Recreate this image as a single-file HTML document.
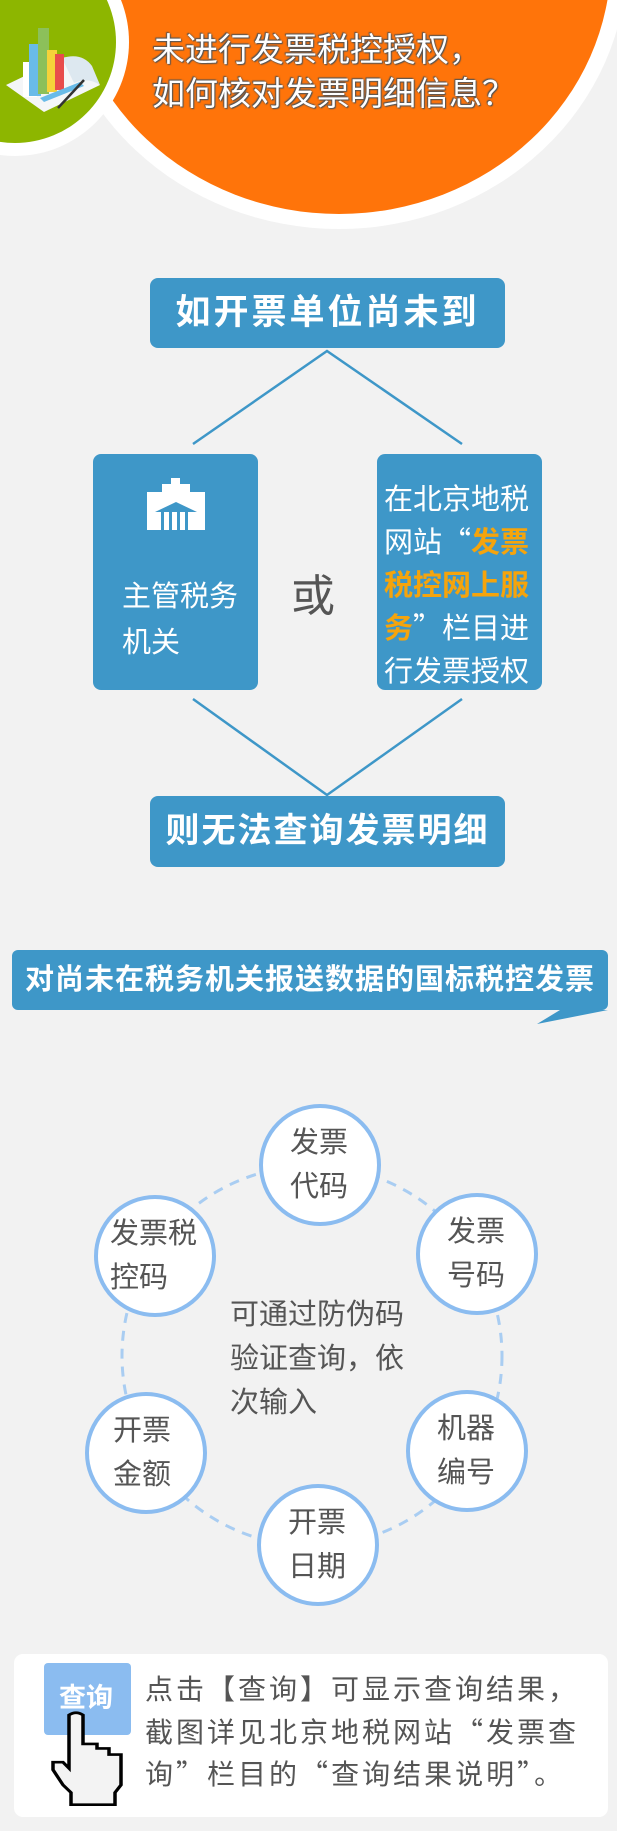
<!DOCTYPE html>
<html><head><meta charset="utf-8"><style>
body{margin:0;width:617px;height:1831px;background:#f2f2f2;position:relative;overflow:hidden;font-family:"Liberation Sans","Noto Sans CJK SC",sans-serif}
.a{position:absolute}
.box{position:absolute;background:#3e97c8;border-radius:8px;color:#fff}
.t{position:absolute;white-space:nowrap}
.q{font-family:"Noto Sans CJK SC",sans-serif;line-height:1}
.n{position:absolute;white-space:nowrap;font-size:29px;line-height:44px;color:#555}
</style></head><body>
<svg class="a" style="left:0;top:0" width="617" height="1831">
 <ellipse cx="339" cy="-41" rx="288" ry="270" fill="#fff"/>
 <ellipse cx="339" cy="-41" rx="272" ry="255" fill="#ff740a"/>
 <circle cx="15" cy="42" r="114" fill="#fff"/>
 <circle cx="15" cy="42" r="101" fill="#8db600"/>
 <polygon points="6,85 62,58 100,85 44,112" fill="#f4f6f8"/>
 <path d="M62,58 q20,-6 30,8 l8,19 q-12,-8 -26,-2z" fill="#dde8f0"/>
 <rect x="23" y="62" width="14" height="35" fill="#fff"/>
 <rect x="29" y="44" width="12" height="52" fill="#69bbe8"/>
 <rect x="38" y="28" width="11" height="66" fill="#8cc05a"/>
 <rect x="47" y="50" width="10" height="42" fill="#f6d23a"/>
 <rect x="55" y="54" width="9" height="36" fill="#e84c4c"/>
 <polygon points="40,98 80,82 84,86 44,102" fill="#69bbe8"/>
 <line x1="58" y1="108" x2="84" y2="80" stroke="#333" stroke-width="2.5"/>
 <g stroke="#3e97c8" stroke-width="2.5" fill="none">
  <polyline points="193,444 327,351 462,444"/>
  <polyline points="193,699 327,795 462,699"/>
 </g>
 <polygon points="537,1024 608,1010 560,1010" fill="#3e97c8"/>
 <circle cx="312" cy="1356" r="190" fill="none" stroke="#a9cdf2" stroke-width="3" stroke-dasharray="10,8"/>
 <g fill="#fff" stroke="#8bbcf0" stroke-width="4">
  <circle cx="320" cy="1165" r="59"/>
  <circle cx="477" cy="1254" r="59"/>
  <circle cx="467" cy="1451" r="59"/>
  <circle cx="318" cy="1545" r="59"/>
  <circle cx="146" cy="1453" r="59"/>
  <circle cx="155" cy="1256" r="59"/>
 </g>
 <rect x="14" y="1654" width="594" height="163" rx="9" fill="#fff"/>
 <rect x="44" y="1663" width="87" height="72" rx="4" fill="#8bbcf0"/>
</svg>
<div class="t" style="left:152px;top:28px;font-size:33px;line-height:44px;color:#fff;text-shadow:0 0 2px #555,1px 1px 1px #555,-1px -1px 1px #555">未进行发票税控授权，<br>如何核对发票明细信息？</div>
<div class="box" style="left:150px;top:278px;width:355px;height:70px;font-size:35px;font-weight:bold;line-height:70px;text-align:center;letter-spacing:3px">如开票单位尚未到</div>
<div class="box" style="left:93px;top:454px;width:165px;height:236px"></div>
<svg class="a" style="left:0;top:0" width="300" height="600">
 <g fill="#fff"><rect x="147" y="492" width="58" height="38"/><rect x="162" y="484" width="28" height="10"/><rect x="171" y="478" width="9" height="8"/></g>
 <g fill="#3e97c8"><rect x="161" y="512" width="3" height="18"/><rect x="169" y="512" width="3" height="18"/><rect x="177" y="512" width="3" height="18"/><rect x="185" y="512" width="3" height="18"/><polygon points="155,512 176,502 197,512"/></g>
</svg>
<div class="t" style="left:122px;top:574px;font-size:29px;line-height:46px;color:#fff">主管税务<br>机关</div>
<div class="t" style="left:291px;top:560px;font-size:44px;color:#555">或</div>
<div class="box" style="left:377px;top:454px;width:165px;height:236px"></div>
<div class="t" style="left:384px;top:479px;font-size:29px;line-height:43px;color:#fff">在北京地税<br>网站<span class="q">“</span><b style="color:#f5a40c">发票</b><br><b style="color:#f5a40c">税控网上服</b><br><b style="color:#f5a40c">务</b><span class="q">”</span>栏目进<br>行发票授权</div>
<div class="box" style="left:150px;top:796px;width:355px;height:71px;font-size:34px;font-weight:bold;line-height:71px;text-align:center;letter-spacing:2px">则无法查询发票明细</div>
<div class="box" style="left:12px;top:950px;width:596px;height:60px;font-size:29px;font-weight:bold;line-height:60px;text-align:center;border-radius:6px;letter-spacing:1px">对尚未在税务机关报送数据的国标税控发票</div>
<div class="n" style="left:290px;top:1121px">发票<br>代码</div>
<div class="n" style="left:447px;top:1210px">发票<br>号码</div>
<div class="n" style="left:437px;top:1407px">机器<br>编号</div>
<div class="n" style="left:288px;top:1501px">开票<br>日期</div>
<div class="n" style="left:113px;top:1409px">开票<br>金额</div>
<div class="n" style="left:110px;top:1212px">发票税<br>控码</div>
<div class="n" style="left:230px;top:1293px">可通过防伪码<br>验证查询，依<br>次输入</div>
<div class="t" style="left:59px;top:1676px;font-size:27px;font-weight:bold;color:#fff">查询</div>
<svg class="a" style="left:0;top:0" width="200" height="1831">
 <g transform="translate(53,1712) scale(1,0.76)">
  <path d="M16,4 q7,-6 14,0 V42 h14 V48 h12 V56 h12 V96 l-6,10 V122 H18 V106 l-8,-10 l-10,-20 V66 h10 l6,8 Z" fill="#f3f3f3" stroke="#000" stroke-width="3.5"/>
 </g>
</svg>
<div class="t" style="left:145px;top:1669px;font-size:28px;line-height:42.5px;letter-spacing:3px;color:#555">点击【查询】可显示查询结果，<br>截图详见北京地税网站<span class="q">“</span>发票查<br>询<span class="q">”</span>栏目的<span class="q">“</span>查询结果说明<span class="q">”</span>。</div>
</body></html>
